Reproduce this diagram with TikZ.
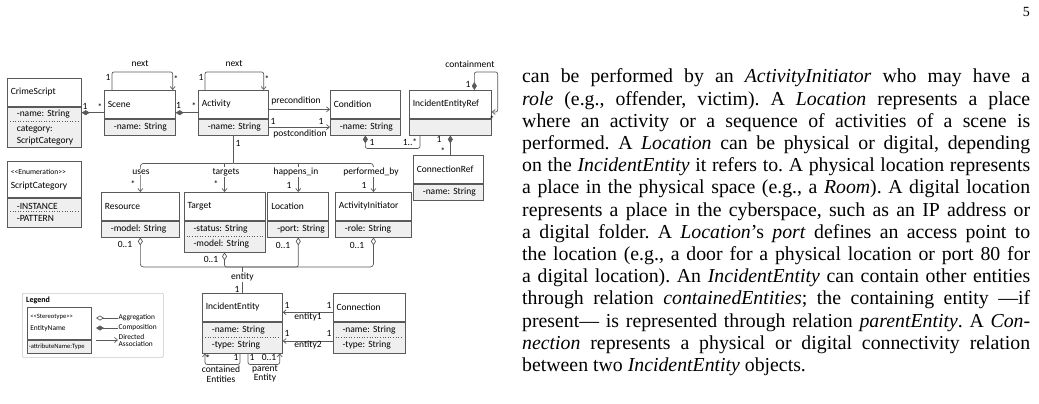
\documentclass[tikz,border=0pt]{standalone}
\usepackage{fontspec}
\setmainfont{Liberation Serif}
\newfontfamily\umlsans{Carlito}
\usepackage{tikz}
\usetikzlibrary{arrows.meta,positioning,calc}
\definecolor{UMLline}{HTML}{5A5A5A}
\definecolor{UMLfill}{HTML}{EFEFEF}
\newcommand{\umlfont}{\umlsans\fontsize{9.5}{15.5}\selectfont}
\newcommand{\umlsmall}{\umlsans\fontsize{7.6}{9}\selectfont}
\newcommand{\legfont}{\umlsans\fontsize{7.4}{8}\selectfont}
\newcommand{\legtiny}{\umlsans\fontsize{6.6}{7}\selectfont}
\newcommand{\bodyfont}{\fontsize{19.8}{22.2}\selectfont}
\newcommand{\stereo}[1]{<\kern0pt<#1>\kern0pt>}
\newcommand{\jline}[1]{\hbox to 508pt{#1}}
\tikzset{
  uml/head/.style={draw=UMLline, line width=0.7pt, fill=white, font=\umlfont, align=left, text width=#1, minimum height=28pt, inner xsep=3.5pt, inner ysep=0pt,
    execute at begin node={\exhyphenpenalty=10000\hyphenpenalty=10000\hbadness=10000\hfuzz=20pt}},
  uml/attr/.style={draw=UMLline, line width=0.7pt, fill=UMLfill, font=\umlfont, align=left, text width=#1, minimum height=16pt, inner xsep=9.5pt, inner ysep=0pt,
    execute at begin node={\exhyphenpenalty=10000\hyphenpenalty=10000\hbadness=10000\hfuzz=20pt}},
  uml/dots/.style={draw=UMLline, line width=0.6pt, dotted},
  uml/line/.style={draw=UMLline, line width=0.7pt, rounded corners=2pt},
  uml/comp/.style={uml/line, {Diamond[length=8pt,width=5pt]}-},
  uml/aggr/.style={uml/line, {Diamond[open,length=8pt,width=5pt]}-},
  uml/nav/.style={uml/line, -{Straight Barb[length=3pt,width=5pt]}},
  uml/compnav/.style={uml/line, {Diamond[length=8pt,width=5pt]}-{Straight Barb[length=3pt,width=5pt]}},
  uml/role/.style={font=\umlfont, fill=white, inner sep=1pt},
  uml/mult/.style={font=\umlfont, inner sep=0.5pt},
  legend/frame/.style={draw=black!22, line width=0.6pt, rounded corners=1pt},
  legend/title/.style={font=\umlsans\bfseries\fontsize{8}{9}\selectfont, inner sep=0pt},
  legend/item/.style={font=\legfont, align=left, inner sep=0.5pt},
  body/text/.style={font=\bodyfont, inner sep=0pt}
}
\begin{document}
\begin{tikzpicture}[x=1pt, y=1pt]
  \useasboundingbox (0,0) rectangle (1039,-404);

  % classes, top row
  \node[uml/head=67pt, anchor=north west] (crime) at (7,-78) {CrimeScript};
  \node[uml/attr=55pt, below=0pt of crime, minimum height=40pt] (crimeA) {-name:~String\\category:\\[-4pt]ScriptCategory};
  \node[uml/head=67pt, anchor=north west, minimum height=36pt] (cat) at (7,-161) {{\umlsmall\stereo{Enumeration}}\\[-1.5pt]ScriptCategory};
  \node[uml/attr=55pt, below=0pt of cat, minimum height=29pt] (catA) {-INSTANCE\\[-3pt]-PATTERN};
  \node[uml/head=64pt, anchor=north west] (scene) at (104,-90) {Scene};
  \node[uml/attr=52pt, below=0pt of scene] (sceneA) {-name:~String};
  \node[uml/head=63pt, anchor=north west] (act) at (198,-90) {Activity};
  \node[uml/attr=51pt, below=0pt of act] (actA) {-name:~String};
  \node[uml/head=63pt, anchor=north west] (cond) at (330,-90) {Condition};
  \node[uml/attr=51pt, below=0pt of cond] (condA) {-name:~String};
  \node[uml/head=75pt, anchor=north west] (ieref) at (409,-90) {IncidentEntityRef};
  \node[uml/attr=63pt, below=0pt of ieref] (ierefA) {};
  \node[uml/head=63pt, anchor=north west] (connref) at (413,-155) {ConnectionRef};
  \node[uml/attr=51pt, below=0pt of connref] (connrefA) {-name:~String};

  % middle row
  \node[uml/head=71pt, anchor=north west] (res) at (101,-192) {Resource};
  \node[uml/attr=59pt, below=0pt of res] (resA) {-model:~String};
  \node[uml/head=74pt, right=4pt of res] (tgt) {Target};
  \node[uml/attr=62pt, below=0pt of tgt, minimum height=31pt] (tgtA) {-status:~String\\-model:~String};
  \node[uml/head=54pt, right=2pt of tgt] (loc) {Location};
  \node[uml/attr=42pt, below=0pt of loc] (locA) {-port:~String};
  \node[uml/head=69pt, right=6pt of loc] (init) {ActivityInitiator};
  \node[uml/attr=57pt, below=0pt of init] (initA) {-role:~String};

  % bottom row
  \node[uml/head=73pt, anchor=north west] (ie) at (202,-293) {IncidentEntity};
  \node[uml/attr=61pt, below=0pt of ie, minimum height=31pt] (ieA) {-name:~String\\-type:~String};
  \node[uml/head=65pt, right=50pt of ie] (conn) {Connection};
  \node[uml/attr=53pt, below=0pt of conn, minimum height=31pt] (connA) {-name:~String\\-type:~String};

  % dotted separators
  \draw[uml/dots] ($(crimeA.north west)+(3pt,-15pt)$) -- ($(crimeA.north east)+(-3pt,-15pt)$);
  \draw[uml/dots] ($(catA.west)+(3pt,1pt)$) -- ($(catA.east)+(-3pt,1pt)$);
  \draw[uml/dots] ($(tgtA.west)+(3pt,0)$) -- ($(tgtA.east)+(-3pt,0)$);
  \draw[uml/dots] ($(ieA.west)+(3pt,0)$) -- ($(ieA.east)+(-3pt,0)$);
  \draw[uml/dots] ($(connA.west)+(3pt,0)$) -- ($(connA.east)+(-3pt,0)$);

  % compositions
  \draw[uml/comp] ($(crimeA.north east)+(0,-6pt)$) -- ($(scene.south west)+(0,6pt)$);
  \draw[uml/comp] ($(scene.south east)+(0,6pt)$) -- ($(act.south west)+(0,6pt)$);
  \draw[uml/comp] (condA.south) -- ++(0,-13pt) -| ($(ierefA.south west)+(11pt,0)$);
  \draw[uml/comp] (ierefA.south) -- (ierefA.south |- connref.north);
  \draw[uml/compnav] ($(ieref.north)+(24pt,0)$) -- ++(0,18pt) -| ($(ieref.north east)+(6pt,-22pt)$) -- ($(ieref.north east)+(0,-22pt)$);

  % next loops
  \draw[uml/nav] ($(scene.north west)+(8pt,0)$) -- ++(0,18pt) -| ($(scene.north east)+(-3pt,0)$);
  \draw[uml/nav] ($(act.north west)+(7pt,0)$) -- ++(0,18pt) -| ($(act.north east)+(-5pt,0)$);

  % pre/post conditions
  \draw[uml/nav] ($(act.east)+(0,-5pt)$) -- ($(cond.west)+(0,-5pt)$);
  \draw[uml/nav] (actA) -- (condA);

  % activity branches
  \coordinate (br) at ($(actA.south)+(0,-28pt)$);
  \draw[uml/line] (actA.south) -- (br);
  \draw[uml/nav, rounded corners=3pt] (br) -| (res.north);
  \draw[uml/nav] (br -| tgt.north) -- (tgt.north);
  \draw[uml/nav] (br -| loc.north) -- (loc.north);
  \draw[uml/nav, rounded corners=3pt] (br) -| (init.north);

  % aggregations to IncidentEntity
  \coordinate (join) at ($(ie.north)+(0,26pt)$);
  \draw[uml/aggr, rounded corners=3pt] (resA.south) |- (join);
  \draw[uml/aggr] (tgtA.south) |- (join);
  \draw[uml/aggr] (locA.south) |- (join);
  \draw[uml/aggr, rounded corners=3pt] (initA.south) |- (join);
  \draw[uml/line] (join) -- (ie.north);

  % connection ends
  \draw[uml/nav] ($(conn.west)+(0,-5pt)$) -- ($(ie.east)+(0,-5pt)$);
  \draw[uml/nav] ($(connA.west)+(0,-3.5pt)$) -- ($(ieA.east)+(0,-3.5pt)$);

  % self loops
  \draw[uml/nav] ($(ieA.south west)+(38pt,0)$) -- ++(0,-11pt) -| ($(ieA.south west)+(3pt,0)$);
  \draw[uml/nav] ($(ieA.south west)+(46pt,0)$) -- ++(0,-11pt) -| ($(ieA.south east)+(-3pt,0)$);

  % role names
  \node[uml/mult] (nextS) at (140,-64) {next};
  \node[uml/mult] (nextA) at (234,-64) {next};
  \node[uml/mult] (contL) at (470,-64) {containment};
  \node[uml/mult] (preL) at (296,-101) {precondition};
  \node[uml/mult] (postL) at (300,-134) {postcondition};
  \node[uml/role] (usesL) at (141,-172) {uses};
  \node[uml/role] (tgtL) at (226,-172) {targets};
  \node[uml/role] (happL) at (296,-172) {happens\_in};
  \node[uml/role] (perfL) at (371,-172) {performed\_by};
  \node[uml/role] (entL) at ($(ie.north)+(0,16pt)$) {entity};
  \node[uml/mult] (e1L) at (308,-317) {entity1};
  \node[uml/mult] (e2L) at (308,-345) {entity2};
  \node[uml/mult, align=center, font=\umlsans\fontsize{9.5}{9.5}\selectfont] (contE) at (221,-374) {contained\\Entities};
  \node[uml/mult, align=center, font=\umlsans\fontsize{9.5}{9.5}\selectfont] (parE) at (265,-374) {parent\\Entity};

  % multiplicities
  \node[uml/mult] (m1) at (85,-106) {1};
  \node[uml/mult] (m2) at (100,-107) {*};
  \node[uml/mult] (m3) at (178.5,-105) {1};
  \node[uml/mult] (m4) at (194,-106) {*};
  \node[uml/mult] (m5) at (108,-77) {1};
  \node[uml/mult] (m6) at (176,-79) {*};
  \node[uml/mult] (m7) at (201,-77) {1};
  \node[uml/mult] (m8) at (267,-79) {*};
  \node[uml/mult] (m9) at (273,-121) {1};
  \node[uml/mult] (m10) at (321,-121) {1};
  \node[uml/mult] (m11) at (238,-143) {1};
  \node[uml/mult] (m12) at (133,-184) {*};
  \node[uml/mult] (m13) at (216,-184) {*};
  \node[uml/mult] (m14) at (289,-185) {1};
  \node[uml/mult] (m15) at (364,-185) {1};
  \node[uml/mult] (m16) at (372,-142) {1};
  \node[uml/mult] (m17) at (410,-142) {1..*};
  \node[uml/mult] (m18) at (439,-139) {1};
  \node[uml/mult] (m19) at (443,-151) {*};
  \node[uml/mult] (m20) at (468,-84) {1};
  \node[uml/mult] (m21) at (492,-119) {*};
  \node[uml/mult] (m22) at (125,-244) {0..1};
  \node[uml/mult] (m23) at (211,-259) {0..1};
  \node[uml/mult] (m24) at (283,-245) {0..1};
  \node[uml/mult] (m25) at (357,-245) {0..1};
  \node[uml/mult] (m26) at (237,-289) {1};
  \node[uml/mult] (m27) at (287,-305) {1};
  \node[uml/mult] (m28) at (329,-305) {1};
  \node[uml/mult] (m29) at (287,-333) {1};
  \node[uml/mult] (m30) at (329,-333) {1};
  \node[uml/mult] (m31) at (208,-358) {*};
  \node[uml/mult] (m32) at (236,-357) {1};
  \node[uml/mult] (m33) at (252,-357) {1};
  \node[uml/mult] (m34) at (269,-357) {0..1};

  % legend
  \node[legend/frame, anchor=north west, minimum width=141pt, minimum height=64pt] (legend) at (22,-293) {};
  \node[legend/title, anchor=north west] (legendT) at ($(legend.north west)+(4pt,-4pt)$) {Legend};
  \node[uml/head=58pt, anchor=north west, minimum height=32pt, inner xsep=3pt, font=\legfont] (legE) at (27,-307) {{\legtiny\stereo{Stereotype}}\\[4pt]EntityName};
  \node[uml/attr=61pt, below=0pt of legE, minimum height=13pt, inner xsep=1.5pt, font=\legtiny] (legEA) {-attributeName:Type};
  \node[legend/item, anchor=west] (aggT) at (118,-318) {Aggregation};
  \node[legend/item, anchor=west] (compT) at (118,-328) {Composition};
  \node[legend/item, anchor=west] (navT) at (118,-340.5) {Directed\\[-1pt]Association};
  \coordinate (aggE) at (96,-318);
  \coordinate (compE) at (96,-328);
  \coordinate (navE) at (96,-340);
  \draw[uml/aggr] (aggE) -- (aggT.west);
  \draw[uml/comp] (compE) -- (compT.west);
  \draw[uml/nav] (navE) -- (navE -| navT.west);

  % page text
  \node[font=\fontsize{14}{16}\selectfont, anchor=base east, inner sep=0pt] (pageno) at (1030,-16.5) {5};
  \node[body/text, anchor=base west] (body) at (522,-83) {\frenchspacing\vtop{%
    \jline{can be performed by an \emph{ActivityInitiator} who may have a}
    \jline{\emph{role} (e.g., offender, victim). A \emph{Location} represents a place}
    \jline{where an activity or a sequence of activities of a scene is}
    \jline{performed. A \emph{Location} can be physical or digital, depending}
    \jline{on the \emph{IncidentEntity} it refers to. A physical location represents}
    \jline{a place in the physical space (e.g., a \emph{Room}). A digital location}
    \jline{represents a place in the cyberspace, such as an IP address or}
    \jline{a digital folder. A \emph{Location}’s \emph{port} defines an access point to}
    \jline{the location (e.g., a door for a physical location or port 80 for}
    \jline{a digital location). An \emph{IncidentEntity} can contain other entities}
    \jline{through relation \emph{containedEntities}; the containing entity —if}
    \jline{present— is represented through relation \emph{parentEntity}. A \emph{Con-}}
    \jline{\emph{nection} represents a physical or digital connectivity relation}
    \hbox{between two \emph{IncidentEntity} objects.}}};
\end{tikzpicture}
\end{document}
